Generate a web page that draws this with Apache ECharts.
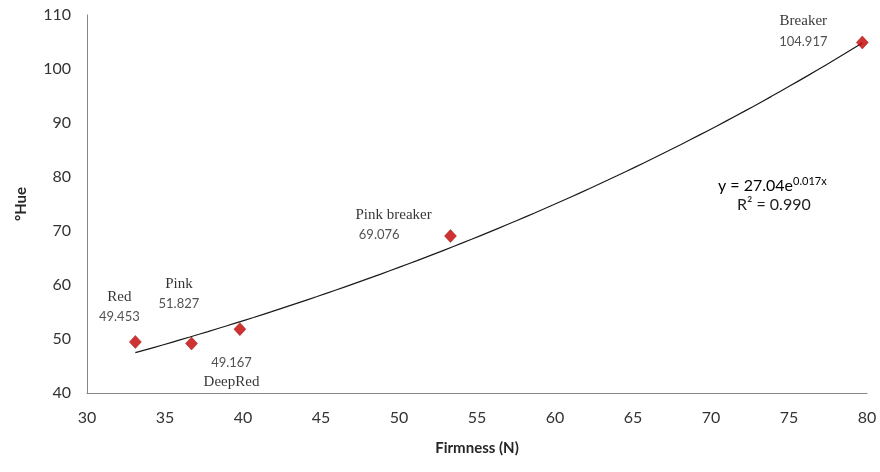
<!DOCTYPE html>
<html>
<head>
<meta charset="utf-8">
<script src="https://cdn.jsdelivr.net/npm/echarts@6/dist/echarts.min.js"></script>
<style>
  html, body { margin: 0; padding: 0; background: #fff; }
  #chart { width: 880px; height: 472px; }
</style>
</head>
<body>
<div id="chart"></div>
<script>
// Ripening stages: firmness (N) against hue angle (°)
const stageNames = ['Red', 'DeepRed', 'Pink', 'Pink breaker', 'Breaker'];
const firmness = [33.1, 36.7, 39.8, 53.3, 79.7];
const hue = [49.453, 49.167, 51.827, 69.076, 104.917];

// Exponential trend line y = a * e^(b x)
const trendCoef = [27.04, 0.017];
const trendR2 = '0.990';

const xTicks = [30, 35, 40, 45, 50, 55, 60, 65, 70, 75, 80];
const yTicks = [40, 50, 60, 70, 80, 90, 100, 110];

// label layout for each stage: [dx, dy, align, valueFirst]
const labelLayout = [
  [-16, -35, 'center', false],
  [40, 29, 'center', true],
  [-61, -35, 'center', false],
  [-95, -11, 'left', false],
  [-59, -11, 'center', false]
];

const scatterData = firmness.map((x, i) => {
  const [dx, dy, align, valueFirst] = labelLayout[i];
  const nameLine = '{n|' + stageNames[i] + '}';
  const valLine = '{v|' + (align === 'left' ? ' ' : '') + hue[i].toFixed(3) + '}';
  return {
    value: [x, hue[i]],
    label: {
      show: true,
      position: 'inside',
      offset: [dx, dy],
      align: align,
      verticalAlign: 'middle',
      formatter: valueFirst ? valLine + '\n' + nameLine : nameLine + '\n' + valLine
    }
  };
});

const xMin = Math.min(...firmness), xMax = Math.max(...firmness);
const trendData = [];
const steps = 80;
for (let k = 0; k <= steps; k++) {
  const x = xMin + (xMax - xMin) * k / steps;
  trendData.push([x, trendCoef[0] * Math.exp(trendCoef[1] * x)]);
}

const axisFont = { fontFamily: 'Lato', fontSize: 16, color: '#333' };

const chart = echarts.init(document.getElementById('chart'), null, { renderer: 'canvas' });
chart.setOption({
  animation: false,
  backgroundColor: '#fff',
  grid: { left: 87, right: 13, top: 15, bottom: 79 },
  xAxis: {
    type: 'value', min: xTicks[0], max: xTicks[xTicks.length - 1], interval: 5,
    name: 'Firmness (N)', nameLocation: 'middle', nameGap: 48,
    nameTextStyle: { fontFamily: 'Lato', fontSize: 15, fontWeight: 'bold', color: '#262626' },
    axisLine: { show: true, lineStyle: { color: '#868686', width: 1 } },
    axisTick: { show: false },
    splitLine: { show: false },
    axisLabel: Object.assign({ margin: 17 }, axisFont)
  },
  yAxis: {
    type: 'value', min: yTicks[0], max: yTicks[yTicks.length - 1], interval: 10,
    name: '°Hue', nameLocation: 'middle', nameGap: 58, nameRotate: 90,
    nameTextStyle: { fontFamily: 'Lato', fontSize: 15, fontWeight: 'bold', color: '#262626' },
    axisLine: { show: true, lineStyle: { color: '#868686', width: 1 } },
    axisTick: { show: false },
    splitLine: { show: false },
    axisLabel: Object.assign({ margin: 16 }, axisFont)
  },
  series: [
    {
      type: 'line',
      data: trendData,
      showSymbol: false,
      symbol: 'none',
      lineStyle: { color: '#1a1a1a', width: 1.2 },
      z: 1,
      silent: true
    },
    {
      type: 'scatter',
      data: scatterData,
      symbol: 'diamond',
      symbolSize: [12, 13],
      itemStyle: { color: '#C00000', borderColor: '#A00000', borderWidth: 0.5 },
      label: {
        rich: {
          n: { fontFamily: 'Liberation Serif', fontSize: 15, color: '#000', lineHeight: 20 },
          v: { fontFamily: 'Lato', fontSize: 13, color: '#262626', lineHeight: 20 }
        }
      },
      z: 3
    }
  ],
  graphic: [
    {
      type: 'text',
      left: 718, top: 176,
      style: {
        text: '{m|y = ' + trendCoef[0].toFixed(2) + 'e}{s|' + trendCoef[1].toFixed(3) + 'x}',
        rich: {
          m: { fontFamily: 'Lato', fontSize: 16, color: '#222' },
          s: { fontFamily: 'Lato', fontSize: 11, color: '#222', verticalAlign: 'top', padding: [0, 0, 8, 0] }
        }
      }
    },
    {
      type: 'text',
      left: 737, top: 197,
      style: { text: 'R² = ' + trendR2, fontFamily: 'Lato', fontSize: 16, fill: '#222' }
    }
  ]
});
</script>
</body>
</html>
